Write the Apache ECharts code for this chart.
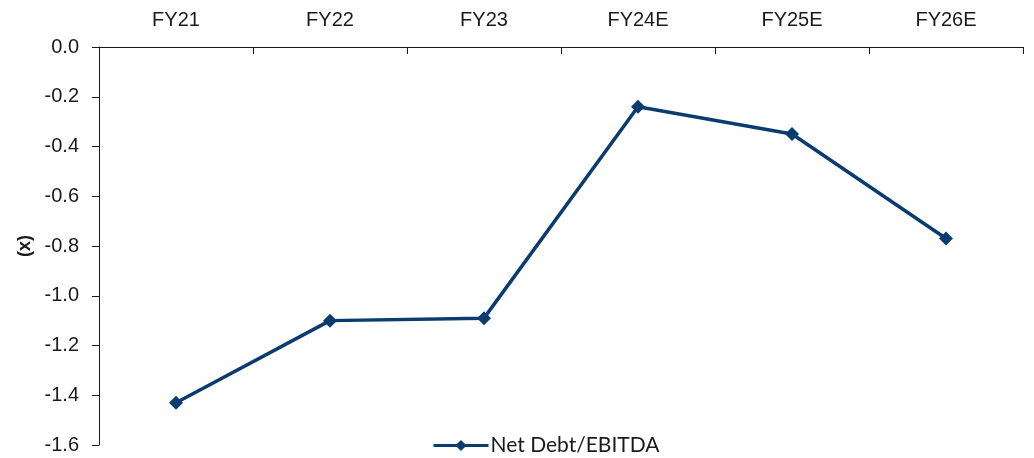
<!DOCTYPE html>
<html>
<head>
<meta charset="utf-8">
<script src="https://cdn.jsdelivr.net/npm/echarts@6/dist/echarts.min.js"></script>
<style>html,body{margin:0;padding:0;background:#fff}#c{width:1034px;height:458px}</style>
</head>
<body>
<div id="c"></div>
<script>
const categories = ['FY21', 'FY22', 'FY23', 'FY24E', 'FY25E', 'FY26E'];
const netDebtEbitda = [-1.43, -1.10, -1.09, -0.24, -0.35, -0.77];
const seriesName = 'Net Debt/EBITDA';
const yAxisName = '(x)';

const chart = echarts.init(document.getElementById('c'), null, {renderer: 'canvas'});
const axisColor = '#1a1a1a';
const lineColor = '#0b3c6f';
chart.setOption({
  animation: false,
  grid: {left: 99, right: 11, top: 47, bottom: 13, containLabel: false},
  legend: {
    bottom: 2, left: 432, padding: 0, itemWidth: 55, itemHeight: 14, itemGap: 4,
    lineStyle: {width: 3, color: lineColor},
    itemStyle: {color: lineColor},
    textStyle: {fontFamily: 'Lato', fontSize: 21, color: '#1a1a1a', padding: [0, 0, 0, -3]},
    data: [seriesName]
  },
  xAxis: {
    type: 'category', position: 'top', data: categories,
    boundaryGap: true,
    axisLine: {lineStyle: {color: axisColor, width: 1}},
    axisTick: {show: true, inside: true, length: 7, lineStyle: {color: axisColor}},
    axisLabel: {fontFamily: 'Liberation Sans', fontSize: 20, color: '#1a1a1a', margin: 17},
    splitLine: {show: false}
  },
  yAxis: {
    type: 'value', min: -1.6, max: 0, interval: 0.2,
    name: yAxisName, nameLocation: 'middle', nameGap: 63, nameRotate: 90,
    nameTextStyle: {fontFamily: 'Liberation Sans', fontSize: 18, fontWeight: 'bold', color: '#1a1a1a'},
    axisLine: {show: true, lineStyle: {color: axisColor, width: 1}},
    axisTick: {show: true, length: 7, lineStyle: {color: axisColor}},
    axisLabel: {fontFamily: 'Liberation Sans', fontSize: 20, color: '#1a1a1a', margin: 20,
      formatter: v => v.toFixed(1)},
    splitLine: {show: false}
  },
  series: [{
    name: seriesName, type: 'line', data: netDebtEbitda,
    symbol: 'diamond', symbolSize: 14,
    lineStyle: {color: lineColor, width: 3.5},
    itemStyle: {color: lineColor}
  }]
});
</script>
</body>
</html>
